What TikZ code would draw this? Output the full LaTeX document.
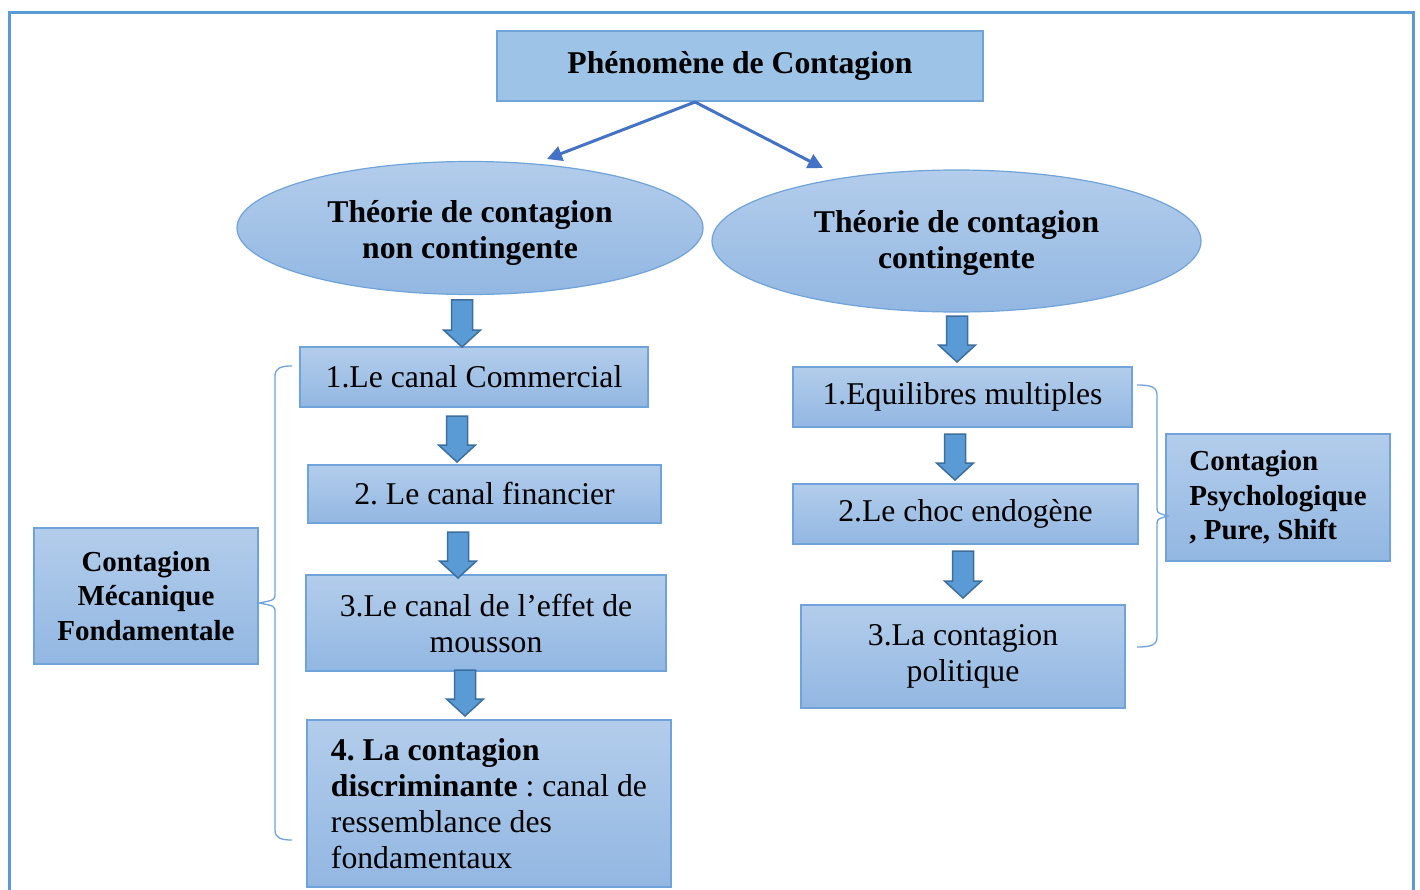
\documentclass[tikz,border=0pt]{standalone}
\usepackage{fontspec}
\setmainfont{Liberation Serif}
\usetikzlibrary{shapes.geometric,arrows.meta,calc}
\definecolor{frameblue}{HTML}{5B9BD5}
\definecolor{boxtop}{HTML}{B3CDEB}
\definecolor{boxbot}{HTML}{92B7E2}
\definecolor{boxline}{HTML}{6FA3DA}
\definecolor{titlefill}{HTML}{9DC3E6}
\definecolor{connblue}{HTML}{4472C4}
\definecolor{barrowfill}{HTML}{5B9BD5}
\definecolor{barrowline}{HTML}{3C6E9E}
\newcommand\blockarr[3]{%
  \draw[barrow] (#1-10.5,#2) -- (#1+10.5,#2) -- (#1+10.5,#3-17) -- (#1+18.5,#3-17)
    -- (#1,#3) -- (#1-18.5,#3-17) -- (#1-10.5,#3-17) -- cycle;}
\frenchspacing
\begin{document}
\begin{tikzpicture}[x=1pt,y=-1pt,
  bigfont/.style={font=\fontsize{31.7}{36}\selectfont},
  sidefont/.style={font=\fontsize{29}{34.5}\selectfont\bfseries},
  box/.style={draw=boxline, line width=1.2pt, top color=boxtop, bottom color=boxbot,
    inner sep=0pt, bigfont, align=center},
  titlebox/.style={draw=boxline, line width=1.2pt, fill=titlefill, inner sep=0pt,
    font=\fontsize{31.7}{36}\selectfont\bfseries},
  oval/.style={ellipse, draw=boxline, line width=1.2pt, top color=boxtop, bottom color=boxbot,
    inner sep=0pt, align=center, font=\fontsize{31.7}{36}\selectfont\bfseries},
  ovaltext/.style={inner sep=0pt, align=center, font=\fontsize{31.7}{36}\selectfont\bfseries},
  conn/.style={draw=connblue, line width=3pt, -{Triangle[length=15pt,width=15pt]}},
  barrow/.style={draw=barrowline, fill=barrowfill, line width=1.5pt, line join=miter},
  bracestyle/.style={draw=boxline, line width=1.3pt},
  framestyle/.style={draw=frameblue, line width=3pt}
]
\useasboundingbox (0,0) rectangle (1420,890);
\fill[white] (0,0) rectangle (1420,890);
% outer frame
\draw[framestyle] (9,890) -- (9,13) -- (1413,13) -- (1413,890);

% title
\node[titlebox, minimum width=486pt, minimum height=70pt] (top) at (740,66) {\raisebox{4pt}{Phénomène de Contagion}};

% ellipses
\node[oval, minimum width=466pt, minimum height=133pt] (ovl) at (470,228) {};
\node[ovaltext] (ovltext) at (470,233) {Théorie de contagion\\non contingente};
\node[oval, minimum width=489pt, minimum height=142pt] (ovr) at (956.5,241) {};
\node[ovaltext] (ovrtext) at (956.5,243) {Théorie de contagion\\contingente};

% connectors from title
\coordinate (src) at (695,102);
\coordinate (lt) at (547,159);
\coordinate (rt) at (823,168);
\draw[conn] (src) -- (lt);
\draw[conn] (src) -- (rt);

% left column boxes
\node[box, minimum width=348pt, minimum height=60pt] (l1) at (474,377) {1.Le canal Commercial};
\node[box, minimum width=353pt, minimum height=58pt] (l2) at (484.5,494) {2. Le canal financier};
\node[box, minimum width=360pt, minimum height=96pt] (l3) at (486,623) {3.Le canal de l’effet de\\mousson};
\node[box, align=left, minimum width=364pt, minimum height=167pt] (l4) at (489,803.5)
  {\textbf{4. La contagion}\\\textbf{discriminante} : canal de\\ressemblance des\\fondamentaux};

% right column boxes
\node[box, minimum width=339pt, minimum height=60pt] (r1) at (962.5,397) {\raisebox{-3pt}{1.Equilibres multiples}};
\node[box, minimum width=345pt, minimum height=60pt] (r2) at (965.5,514) {\raisebox{-3pt}{2.Le choc endogène}};
\node[box, minimum width=324pt, minimum height=103pt] (r3) at (963,656.5) {3.La contagion\\politique};

% side boxes
\node[box, sidefont, minimum width=224pt, minimum height=136pt] (lm) at (146,596) {Contagion\\Mécanique\\Fondamentale};
\node[box, sidefont, align=left, minimum width=224pt, minimum height=127pt] (rp) at (1278,497.5) {Contagion\\Psychologique\\, Pure, Shift};

% block arrows
\blockarr{462}{300}{347}
\blockarr{457}{416}{462}
\blockarr{458}{532}{578}
\blockarr{465}{670}{716}
\blockarr{957}{316}{362}
\blockarr{955}{434}{480}
\blockarr{963}{551}{598}

% braces
\draw[bracestyle] (292,366) .. controls (281,366) and (275,368) .. (275,376) -- (275,593)
  .. controls (275,600) .. (259,603) .. controls (275,606) .. (275,613) -- (275,830)
  .. controls (275,838) and (281,840) .. (292,840);
\draw[bracestyle] (1137,385) .. controls (1151,385) and (1157,387) .. (1157,395) -- (1157,507)
  .. controls (1157,513) .. (1168,516) .. controls (1157,519) .. (1157,525) -- (1157,637)
  .. controls (1157,645) and (1151,647) .. (1137,647);
\end{tikzpicture}
\end{document}
